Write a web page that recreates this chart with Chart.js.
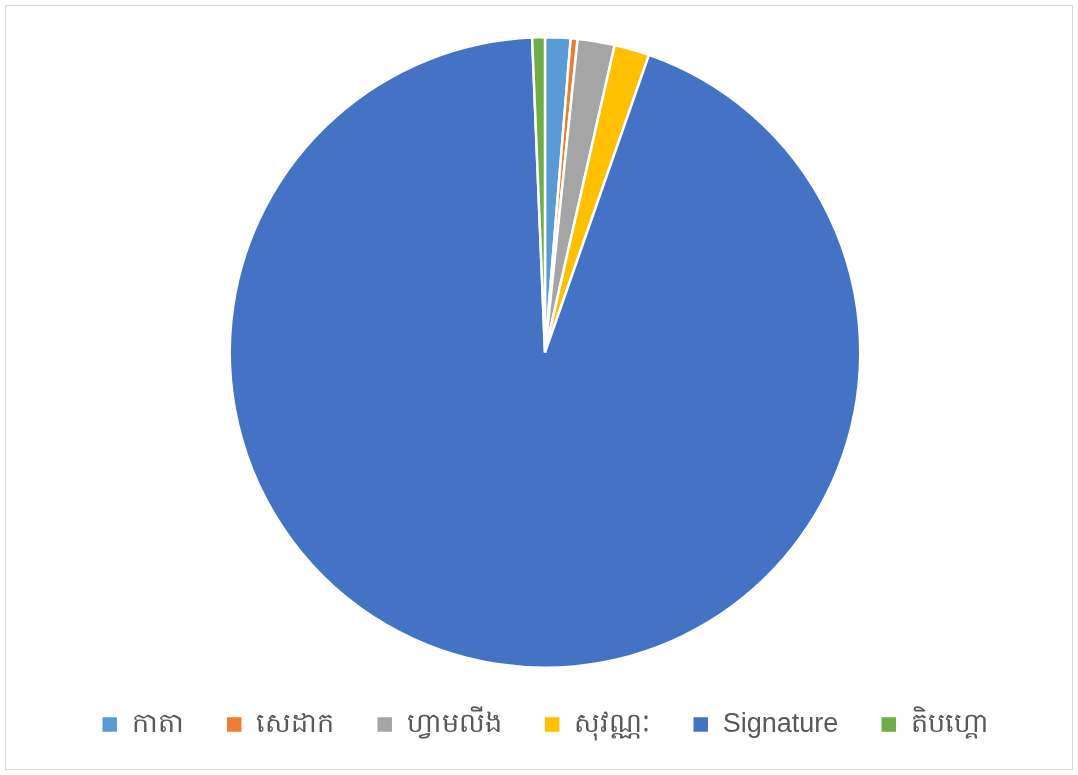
<!DOCTYPE html>
<html>
<head>
<meta charset="utf-8">
<script src="https://cdn.jsdelivr.net/npm/chart.js@4"></script>
<style>
    body { margin: 0; background: #ffffff; }
    #wrap {
        position: absolute; left: 5px; top: 5px;
        width: 1068px; height: 765px;
        border: 1px solid #d9d9d9; box-sizing: border-box;
    }
</style>
</head>
<body>
<div id="wrap"><canvas id="pieChart"></canvas></div>
<script>
var categories = ['កាតា', 'សេដាក', 'ហ្វាមលីង', 'សុវណ្ណៈ', 'Signature', 'តិបហ្គោ'];
var values = [1.3, 0.35, 1.9, 1.8, 94.0, 0.65];
var colors = ['#5b9bd5', '#ed7d31', '#a5a5a5', '#ffc000', '#4472c4', '#70ad47'];

document.addEventListener('DOMContentLoaded', function() {
    var ctx = document.getElementById('pieChart').getContext('2d');
    var pieChart = new Chart(ctx, {
        type: 'pie',
        data: {
            labels: categories,
            datasets: [{
                data: values,
                backgroundColor: colors,
                borderColor: '#ffffff',
                borderWidth: 2.5
            }]
        },
        options: {
            responsive: true,
            maintainAspectRatio: false,
            animation: false,
            layout: {
                padding: { top: 30, left: 12, bottom: 21 }
            },
            plugins: {
                legend: {
                    position: 'bottom',
                    labels: {
                        boxWidth: 17,
                        boxHeight: 17,
                        padding: 42,
                        color: '#595959',
                        font: { size: 27, family: '"Liberation Sans", Arial, "Noto Sans", sans-serif' }
                    }
                },
                tooltip: {
                    enabled: false
                }
            }
        }
    });
});
</script>
</body>
</html>
